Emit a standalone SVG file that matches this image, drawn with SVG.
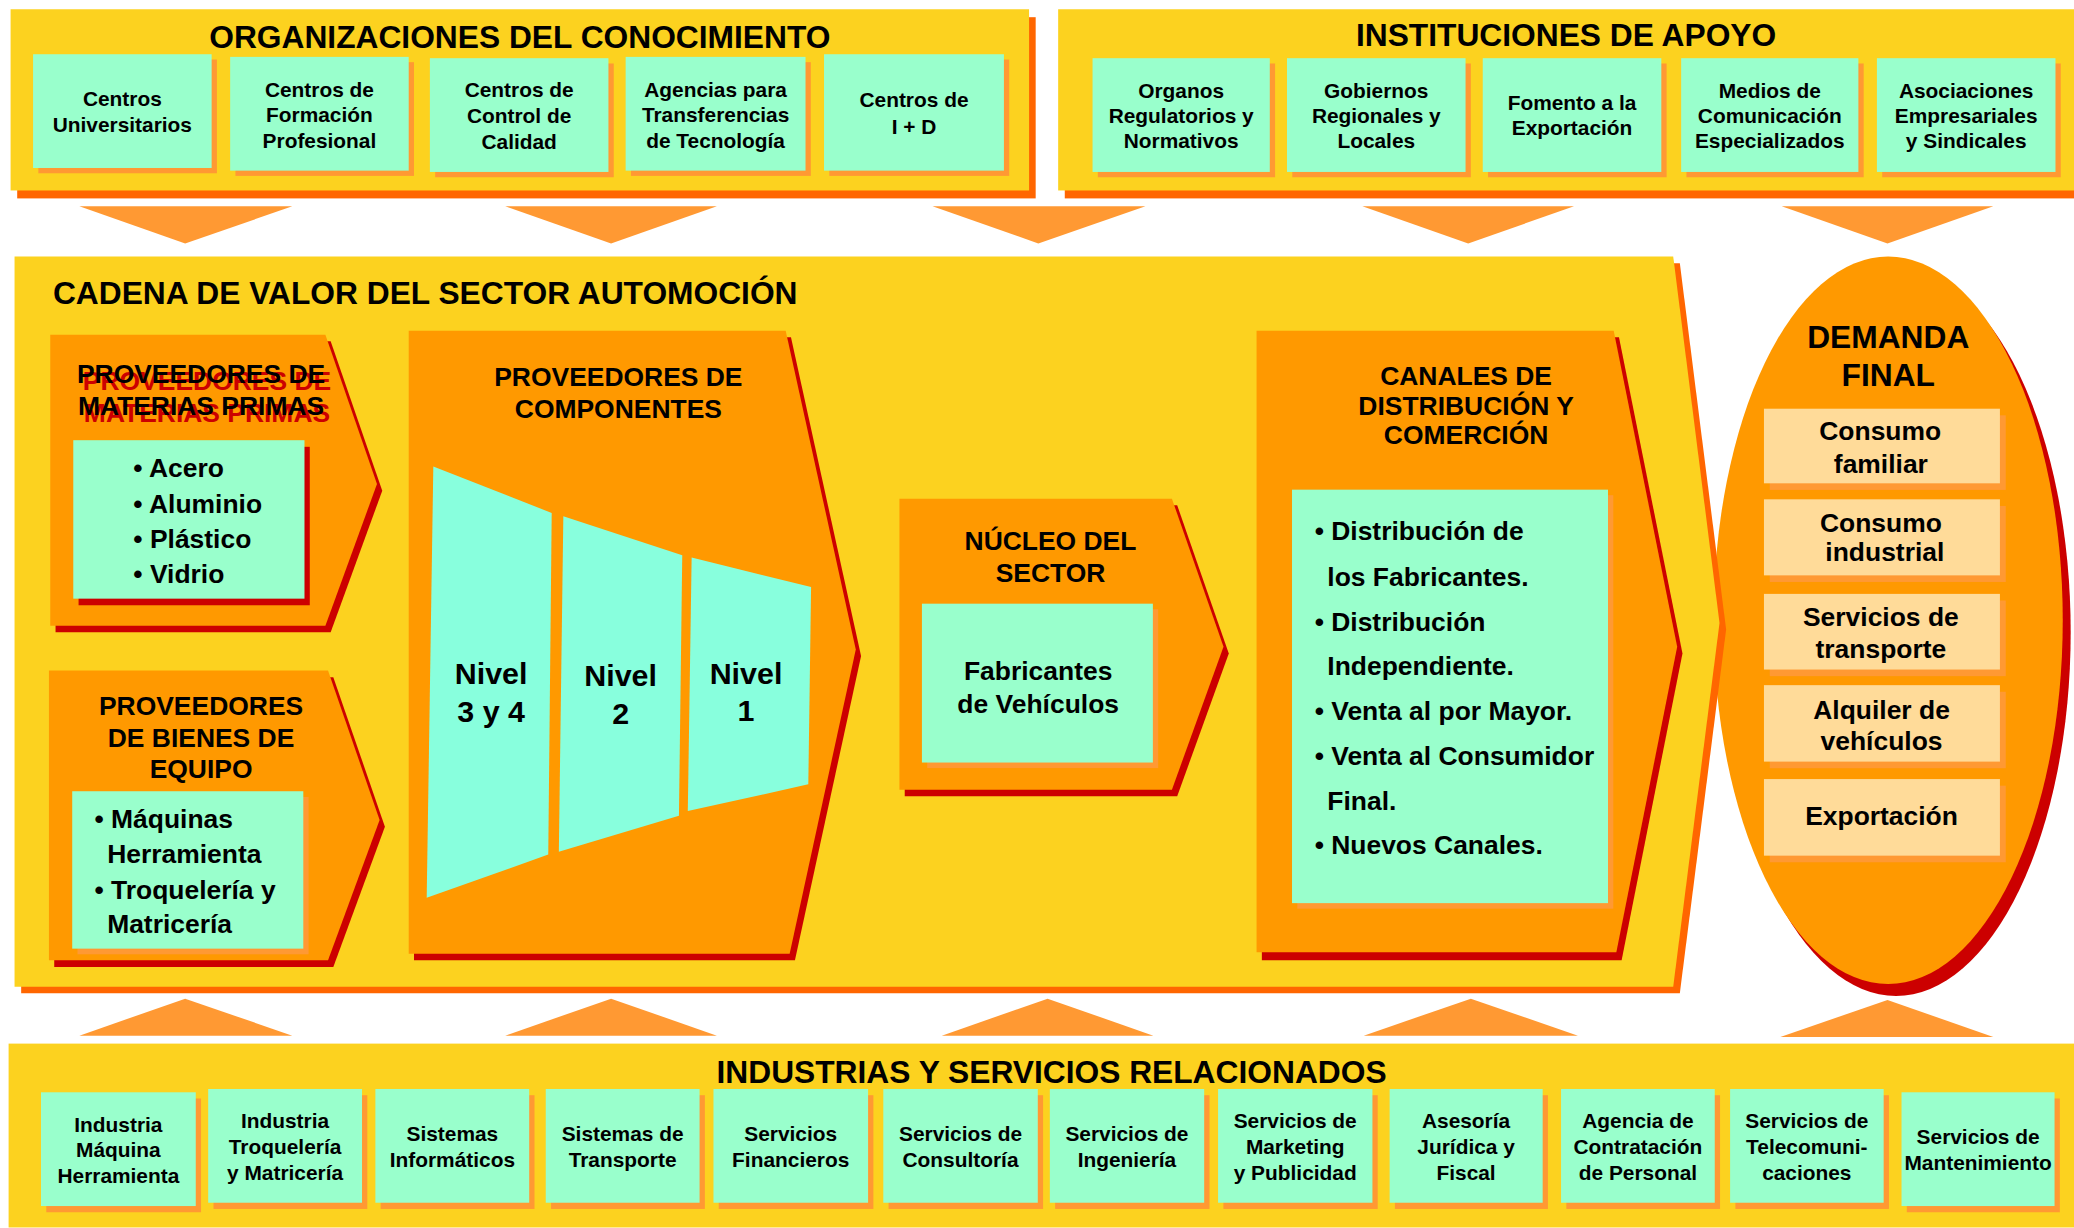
<svg xmlns="http://www.w3.org/2000/svg" width="2074" height="1228" viewBox="0 0 2074 1228">
<style>
text{font-family:"Liberation Sans",Arial,Helvetica,sans-serif;font-weight:bold;fill:#000}
.m{text-anchor:middle}
.f16{font-size:15.8px}
.f20{font-size:20px}
.f23{font-size:23px}
.f24{font-size:24px}
.yel{fill:#FCD21F}
.dor{fill:#FF6600}
.org{fill:#FF9900}
.red{fill:#CC0000}
.mint{fill:#99FFCC}
.msh{fill:#FF9933}
.peach{fill:#FFDB99}
.niv{fill:#88FFDD}
.tri{fill:#FF9933}
.rt{fill:#CC0000}
</style>
<rect width="2074" height="1228" fill="#FFFFFF"/>
<g transform="scale(1.3227)">

<!-- TOP LEFT -->
<g id="organizaciones">
<rect class="dor" x="13" y="13" width="770" height="137"/>
<rect class="yel" x="8" y="7" width="770" height="137"/>
<text class="m f24" x="393" y="36">ORGANIZACIONES DEL CONOCIMIENTO</text>
<g id="centros-universitarios"><rect class="msh" x="29" y="45" width="135" height="86"/><rect class="mint" x="25" y="41" width="135" height="86"/>
<text class="m f16" x="92.5" y="80">Centros</text><text class="m f16" x="92.5" y="100">Universitarios</text></g>
<g id="centros-formacion"><rect class="msh" x="178" y="47" width="135" height="86"/><rect class="mint" x="174" y="43" width="135" height="86"/>
<text class="m f16" x="241.5" y="73">Centros de</text><text class="m f16" x="241.5" y="92.5">Formación</text><text class="m f16" x="241.5" y="112">Profesional</text></g>
<g id="centros-control"><rect class="msh" x="329" y="48" width="135" height="86"/><rect class="mint" x="325" y="44" width="135" height="86"/>
<text class="m f16" x="392.5" y="73.5">Centros de</text><text class="m f16" x="392.5" y="93">Control de</text><text class="m f16" x="392.5" y="112.5">Calidad</text></g>
<g id="agencias"><rect class="msh" x="477" y="47" width="136" height="86"/><rect class="mint" x="473" y="43" width="136" height="86"/>
<text class="m f16" x="541" y="73">Agencias para</text><text class="m f16" x="541" y="92.5">Transferencias</text><text class="m f16" x="541" y="112">de Tecnología</text></g>
<g id="centros-id"><rect class="msh" x="627" y="45" width="136" height="88"/><rect class="mint" x="623" y="41" width="136" height="88"/>
<text class="m f16" x="691" y="81">Centros de</text><text class="m f16" x="691" y="101">I + D</text></g>
</g>

<!-- TOP RIGHT -->
<g id="instituciones">
<rect class="dor" x="805" y="13" width="770" height="137"/>
<rect class="yel" x="800" y="7" width="770" height="137"/>
<text class="m f24" x="1184" y="35">INSTITUCIONES DE APOYO</text>
<g id="organos"><rect class="msh" x="830" y="48" width="134" height="86"/><rect class="mint" x="826" y="44" width="134" height="86"/>
<text class="m f16" x="893" y="74">Organos</text><text class="m f16" x="893" y="93">Regulatorios y</text><text class="m f16" x="893" y="112">Normativos</text></g>
<g id="gobiernos"><rect class="msh" x="977" y="48" width="135" height="86"/><rect class="mint" x="973" y="44" width="135" height="86"/>
<text class="m f16" x="1040.5" y="74">Gobiernos</text><text class="m f16" x="1040.5" y="93">Regionales y</text><text class="m f16" x="1040.5" y="112">Locales</text></g>
<g id="fomento"><rect class="msh" x="1125" y="48" width="135" height="86"/><rect class="mint" x="1121" y="44" width="135" height="86"/>
<text class="m f16" x="1188.5" y="83">Fomento a la</text><text class="m f16" x="1188.5" y="102">Exportación</text></g>
<g id="medios"><rect class="msh" x="1275" y="48" width="134" height="86"/><rect class="mint" x="1271" y="44" width="134" height="86"/>
<text class="m f16" x="1338" y="74">Medios de</text><text class="m f16" x="1338" y="93">Comunicación</text><text class="m f16" x="1338" y="112">Especializados</text></g>
<g id="asociaciones"><rect class="msh" x="1423" y="48" width="135" height="86"/><rect class="mint" x="1419" y="44" width="135" height="86"/>
<text class="m f16" x="1486.5" y="74">Asociaciones</text><text class="m f16" x="1486.5" y="93">Empresariales</text><text class="m f16" x="1486.5" y="112">y Sindicales</text></g>
</g>

<!-- CONNECTORS (arrow triangles) -->
<g id="connectors">
<polygon class="tri" points="60,156 221,156 140,184"/>
<polygon class="tri" points="382,156 542,156 462,184"/>
<polygon class="tri" points="705,156 866,156 785,184"/>
<polygon class="tri" points="1030,156 1190,156 1110,184"/>
<polygon class="tri" points="1347,156 1507,156 1427,184"/>
<polygon class="tri" points="60,783 221,783 140,755"/>
<polygon class="tri" points="382,783 542,783 462,755"/>
<polygon class="tri" points="712,783 872,783 792,755"/>
<polygon class="tri" points="1031,783 1193,783 1112,755"/>
<polygon class="tri" points="1346,784 1507,784 1427,756"/>
</g>

<!-- DEMANDA FINAL -->
<g id="demanda-final">
<ellipse class="red" cx="1433.5" cy="478" rx="132" ry="275"/>
<ellipse class="org" cx="1427.5" cy="469" rx="132" ry="275"/>
<text class="m f24" x="1427.6" y="263">DEMANDA</text>
<text class="m f24" x="1427.6" y="291.5">FINAL</text>
<g id="consumo-familiar"><rect class="msh" x="1338" y="314" width="178.4" height="56.4"/><rect class="peach" x="1333.6" y="309" width="178.4" height="56.4"/>
<text class="m f20" x="1421.5" y="333">Consumo</text><text class="m f20" x="1422" y="357.5">familiar</text></g>
<g id="consumo-industrial"><rect class="msh" x="1338" y="382.5" width="178.4" height="57.5"/><rect class="peach" x="1333.6" y="377.5" width="178.4" height="57.5"/>
<text class="m f20" x="1422" y="402.5">Consumo</text><text class="m f20" x="1425" y="424.5">industrial</text></g>
<g id="servicios-transporte"><rect class="msh" x="1338" y="454" width="178.4" height="57.2"/><rect class="peach" x="1333.6" y="449" width="178.4" height="57.2"/>
<text class="m f20" x="1422" y="473.5">Servicios de</text><text class="m f20" x="1422" y="497.5">transporte</text></g>
<g id="alquiler"><rect class="msh" x="1338" y="523" width="178.4" height="57.8"/><rect class="peach" x="1333.6" y="518" width="178.4" height="57.8"/>
<text class="m f20" x="1422.5" y="543.5">Alquiler de</text><text class="m f20" x="1422.5" y="567">vehículos</text></g>
<g id="exportacion"><rect class="msh" x="1338" y="594" width="178.4" height="57.9"/><rect class="peach" x="1333.6" y="589" width="178.4" height="57.9"/>
<text class="m f20" x="1422.5" y="624">Exportación</text></g>
</g>

<!-- CADENA DE VALOR -->
<g id="cadena-valor">
<polygon class="dor" points="16,199 1270,199 1305,476 1270,751 16,751"/>
<polygon class="yel" points="11,194 1265,194 1300,471 1265,746 11,746"/>
<text class="f24" x="40" y="230">CADENA DE VALOR DEL SECTOR AUTOMOCIÓN</text>
</g>

<g id="materias-primas">
<polygon class="red" points="42,258 250,258 289,371 250,478 42,478"/>
<polygon class="org" points="38,253 246,253 285,366 246,473 38,473"/>
<text class="m f20 rt" x="156.5" y="294.8">PROVEEDORES DE</text>
<text class="m f20 rt" x="156.5" y="318.8">MATERIAS PRIMAS</text>
<text class="m f20" x="152" y="289.8">PROVEEDORES DE</text>
<text class="m f20" x="152" y="313.8">MATERIAS PRIMAS</text>
<rect class="red" x="59.4" y="337.8" width="174.8" height="119.8"/>
<rect class="mint" x="55.4" y="332.8" width="174.8" height="119.8"/>
<text class="f20" x="100.8" y="361">• Acero</text>
<text class="f20" x="100.8" y="387.8">• Aluminio</text>
<text class="f20" x="100.8" y="414.5">• Plástico</text>
<text class="f20" x="100.8" y="440.8">• Vidrio</text>
</g>

<g id="bienes-equipo">
<polygon class="red" points="41,512 252,512 291,625 252,731 41,731"/>
<polygon class="org" points="37,507 248,507 287,620 248,726 37,726"/>
<text class="m f20" x="152" y="540.6">PROVEEDORES</text>
<text class="m f20" x="152" y="564.5">DE BIENES DE</text>
<text class="m f20" x="152" y="588.2">EQUIPO</text>
<rect class="msh" x="58.6" y="602.5" width="174.7" height="119"/>
<rect class="mint" x="54.6" y="598.2" width="174.7" height="119"/>
<text class="f20" x="71.4" y="626">• Máquinas</text>
<text class="f20" x="81" y="652.4">Herramienta</text>
<text class="f20" x="71.4" y="679.8">• Troquelería y</text>
<text class="f20" x="81" y="705.5">Matricería</text>
</g>

<g id="componentes">
<polygon class="red" points="313,255 598,255 651,496 601,726 313,726"/>
<polygon class="org" points="309,250 594,250 647,491 597,721 309,721"/>
<text class="m f20" x="467.5" y="292.1">PROVEEDORES DE</text>
<text class="m f20" x="467.5" y="316.3">COMPONENTES</text>
<g id="nivel-3-4"><polygon class="niv" points="327.6,352.6 417.1,387.8 414.5,646.1 322.6,678.8"/>
<text class="m f23" x="371.3" y="516.8">Nivel</text><text class="m f23" x="371.3" y="546.1">3 y 4</text></g>
<g id="nivel-2"><polygon class="niv" points="425.9,390.3 515.8,419.7 513.3,616.8 422.5,643.9"/>
<text class="m f23" x="469.2" y="518.5">Nivel</text><text class="m f23" x="469.2" y="547">2</text></g>
<g id="nivel-1"><polygon class="niv" points="522.9,421.5 613.2,443.8 611.1,593 520,613.2"/>
<text class="m f23" x="564" y="516.8">Nivel</text><text class="m f23" x="564" y="545.4">1</text></g>
</g>

<g id="nucleo">
<polygon class="red" points="684,382 890,382 929,494 890,602 684,602"/>
<polygon class="org" points="680,377 886,377 925,489 886,597 680,597"/>
<text class="m f20" x="794.2" y="416">NÚCLEO DEL</text>
<text class="m f20" x="794.2" y="440.2">SECTOR</text>
<rect class="msh" x="701" y="460.6" width="174.6" height="120.1"/>
<rect class="mint" x="697" y="456.4" width="174.6" height="120.1"/>
<text class="m f20" x="784.9" y="514.2">Fabricantes</text>
<text class="m f20" x="784.9" y="538.7">de Vehículos</text>
</g>

<g id="canales">
<polygon class="red" points="954,255 1224,255 1272,494 1226,726 954,726"/>
<polygon class="org" points="950,250 1220,250 1268,489 1222,720 950,720"/>
<text class="m f20" x="1108.4" y="291.4">CANALES DE</text>
<text class="m f20" x="1108.4" y="313.4">DISTRIBUCIÓN Y</text>
<text class="m f20" x="1108.4" y="335.4">COMERCIÓN</text>
<rect class="msh" x="980.8" y="374.4" width="238.9" height="312.6"/>
<rect class="mint" x="976.8" y="370.2" width="238.9" height="312.6"/>
<text class="f20" x="993.9" y="408.6">• Distribución de</text>
<text class="f20" x="1003.5" y="443">los Fabricantes.</text>
<text class="f20" x="993.9" y="476.8">• Distribución</text>
<text class="f20" x="1003.5" y="510.6">Independiente.</text>
<text class="f20" x="993.9" y="544.3">• Venta al por Mayor.</text>
<text class="f20" x="993.9" y="578">• Venta al Consumidor</text>
<text class="f20" x="1003.5" y="612.1">Final.</text>
<text class="f20" x="993.9" y="645.4">• Nuevos Canales.</text>
</g>

<!-- BOTTOM -->
<g id="industrias">
<rect class="yel" x="6.5" y="789" width="1562" height="139"/>
<text class="m f24" x="795" y="819">INDUSTRIAS Y SERVICIOS RELACIONADOS</text>
<g id="ind-maquina"><rect class="msh" x="35" y="830.5" width="117" height="86"/><rect class="mint" x="31" y="825.8" width="117" height="86"/>
<text class="m f16" x="89.5" y="855.5">Industria</text><text class="m f16" x="89.5" y="875">Máquina</text><text class="m f16" x="89.5" y="894.5">Herramienta</text></g>
<g id="ind-troqueleria"><rect class="msh" x="161.4" y="828" width="116.3" height="86"/><rect class="mint" x="157.4" y="823.3" width="116.3" height="86"/>
<text class="m f16" x="215.5" y="853">Industria</text><text class="m f16" x="215.5" y="872.5">Troquelería</text><text class="m f16" x="215.5" y="892">y Matricería</text></g>
<g id="sistemas-inf"><rect class="msh" x="287.8" y="828" width="116.3" height="86"/><rect class="mint" x="283.8" y="823.3" width="116.3" height="86"/>
<text class="m f16" x="342" y="863">Sistemas</text><text class="m f16" x="342" y="882.5">Informáticos</text></g>
<g id="sistemas-trans"><rect class="msh" x="416.6" y="828" width="116.3" height="86"/><rect class="mint" x="412.6" y="823.3" width="116.3" height="86"/>
<text class="m f16" x="470.7" y="863">Sistemas de</text><text class="m f16" x="470.7" y="882.5">Transporte</text></g>
<g id="serv-financieros"><rect class="msh" x="543.4" y="828" width="116.9" height="86"/><rect class="mint" x="539.4" y="823.3" width="116.9" height="86"/>
<text class="m f16" x="597.8" y="863">Servicios</text><text class="m f16" x="597.8" y="882.5">Financieros</text></g>
<g id="serv-consultoria"><rect class="msh" x="671.8" y="828" width="116.8" height="86"/><rect class="mint" x="667.8" y="823.3" width="116.8" height="86"/>
<text class="m f16" x="726.2" y="863">Servicios de</text><text class="m f16" x="726.2" y="882.5">Consultoría</text></g>
<g id="serv-ingenieria"><rect class="msh" x="797.7" y="828" width="116.7" height="86"/><rect class="mint" x="793.7" y="823.3" width="116.7" height="86"/>
<text class="m f16" x="852" y="862.5">Servicios de</text><text class="m f16" x="852" y="882">Ingeniería</text></g>
<g id="serv-marketing"><rect class="msh" x="924.9" y="828" width="116.7" height="86"/><rect class="mint" x="920.9" y="823.3" width="116.7" height="86"/>
<text class="m f16" x="979.2" y="853">Servicios de</text><text class="m f16" x="979.2" y="872.5">Marketing</text><text class="m f16" x="979.2" y="892">y Publicidad</text></g>
<g id="asesoria"><rect class="msh" x="1054.6" y="828" width="115.7" height="86"/><rect class="mint" x="1050.6" y="823.3" width="115.7" height="86"/>
<text class="m f16" x="1108.4" y="853">Asesoría</text><text class="m f16" x="1108.4" y="872.5">Jurídica y</text><text class="m f16" x="1108.4" y="892">Fiscal</text></g>
<g id="agencia-contratacion"><rect class="msh" x="1184.2" y="828" width="116.2" height="86"/><rect class="mint" x="1180.2" y="823.3" width="116.2" height="86"/>
<text class="m f16" x="1238.3" y="853">Agencia de</text><text class="m f16" x="1238.3" y="872.5">Contratación</text><text class="m f16" x="1238.3" y="892">de Personal</text></g>
<g id="serv-telecom"><rect class="msh" x="1312" y="828" width="116.1" height="86"/><rect class="mint" x="1308" y="823.3" width="116.1" height="86"/>
<text class="m f16" x="1366" y="853">Servicios de</text><text class="m f16" x="1366" y="872.5">Telecomuni-</text><text class="m f16" x="1366" y="892">caciones</text></g>
<g id="serv-mantenimiento"><rect class="msh" x="1441.6" y="830.5" width="115.7" height="86"/><rect class="mint" x="1437.6" y="825.8" width="115.7" height="86"/>
<text class="m f16" x="1495.5" y="865">Servicios de</text><text class="m f16" x="1495.5" y="884.5">Mantenimiento</text></g>
</g>

</g>
</svg>
